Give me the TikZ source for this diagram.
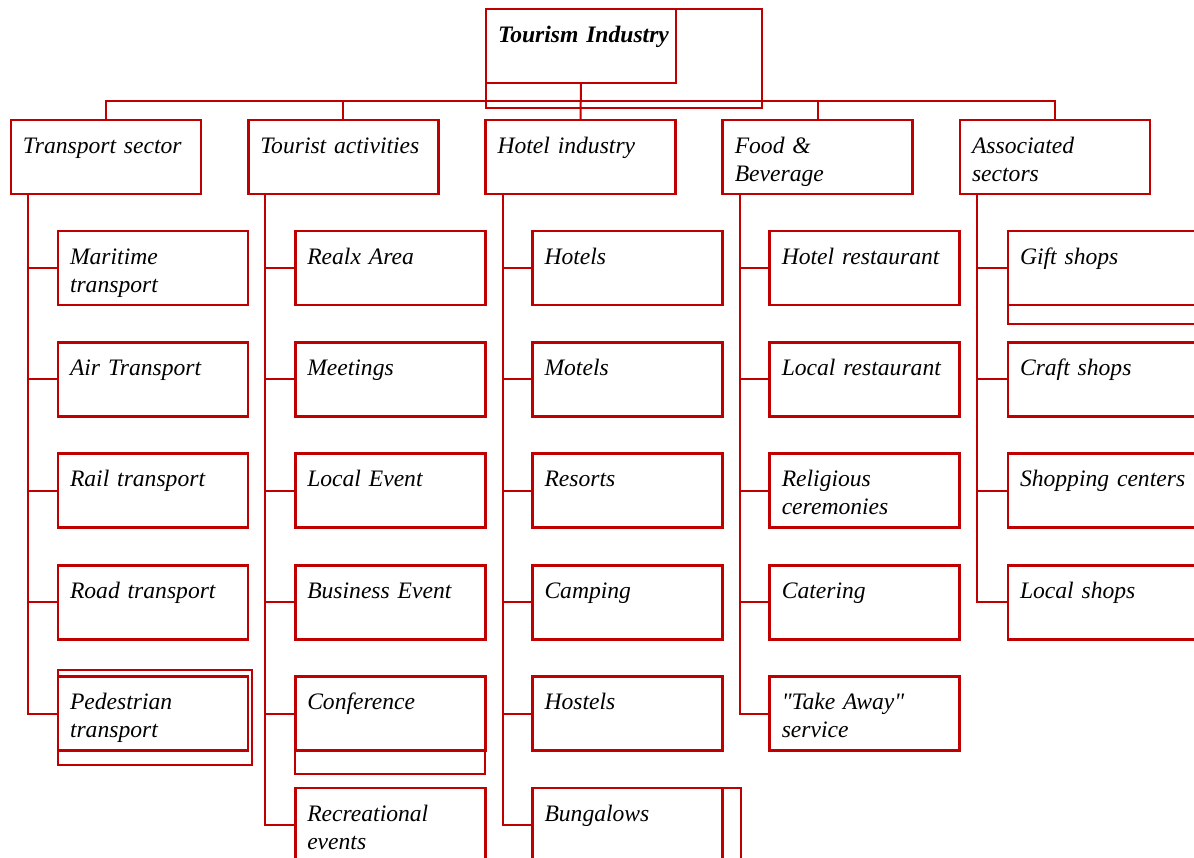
\documentclass[tikz,border=0pt]{standalone}
\usepackage{fontspec}
\setmainfont{Liberation Serif}
\usetikzlibrary{positioning}
\definecolor{boxred}{RGB}{192,0,0}

\begin{document}
\begin{tikzpicture}[x=1pt,y=-1pt,node distance=47.25pt,
    box/.style={draw=boxred, line width=2.8pt, rectangle, outer sep=0pt,
        minimum width=190pt, minimum height=74pt, inner sep=12pt,
        text width=166pt, align=left, text height=21pt, text depth=29pt,
        font=\fontsize{23.6}{28}\selectfont\itshape},
    link/.style={draw=boxred, line width=2pt},
    extra/.style={draw=boxred, line width=2pt}]

    \useasboundingbox (0,0) rectangle (1194,857);
    \clip (0,0) rectangle (1194,857);

    % top of the tree
    \node[box, anchor=north west, font=\fontsize{23.6}{28}\selectfont\bfseries\itshape] (tourism) at (486,9) {\mbox{Tourism Industry}};

    % the five sectors
    \node[box, anchor=north west] (trans) at (11,120) {\mbox{Transport sector}};
    \node[box, right=of trans]  (tour)   {\mbox{Tourist activities}};
    \node[box, right=of tour]   (hotel)  {Hotel industry};
    \node[box, right=of hotel]  (food)   {Food \&\\Beverage};
    \node[box, right=of food]   (assoc)  {Associated\\sectors};

    % bus line under the top box
    \coordinate (bus) at ([yshift=19pt]hotel.north);
    \draw[link] (tourism.south) -- (hotel.north);
    \foreach \s in {trans,tour,food,assoc}
        \draw[link] (\s.north) |- (bus);

    % transport sector
    \node[box, anchor=north west] (maritime) at ([xshift=47pt,yshift=-37pt]trans.south west) {Maritime\\transport};
    \node[box, below=37.4pt of maritime] (air)        {Air Transport};
    \node[box, below=37.4pt of air]      (rail)       {Rail transport};
    \node[box, below=37.4pt of rail]     (road)       {Road transport};
    \node[box, below=37.4pt of road]     (pedestrian) {Pedestrian\\transport};
    \foreach \c in {maritime,air,rail,road,pedestrian}
        \draw[link] ([xshift=17pt]trans.south west) |- (\c.west);

    % tourist activities
    \node[box, anchor=north west] (relax) at ([xshift=47pt,yshift=-37pt]tour.south west) {Realx Area};
    \node[box, below=37.4pt of relax]      (meetings)     {Meetings};
    \node[box, below=37.4pt of meetings]   (localevent)   {Local Event};
    \node[box, below=37.4pt of localevent] (business)     {\mbox{Business Event}};
    \node[box, below=37.4pt of business]   (conference)   {Conference};
    \node[box, below=37.4pt of conference] (recreational) {Recreational\\events};
    \foreach \c in {relax,meetings,localevent,business,conference,recreational}
        \draw[link] ([xshift=17pt]tour.south west) |- (\c.west);

    % hotel industry
    \node[box, anchor=north west] (hotels) at ([xshift=47pt,yshift=-37pt]hotel.south west) {Hotels};
    \node[box, below=37.4pt of hotels]  (motels)    {Motels};
    \node[box, below=37.4pt of motels]  (resorts)   {Resorts};
    \node[box, below=37.4pt of resorts] (camping)   {Camping};
    \node[box, below=37.4pt of camping] (hostels)   {Hostels};
    \node[box, below=37.4pt of hostels] (bungalows) {Bungalows};
    \foreach \c in {hotels,motels,resorts,camping,hostels,bungalows}
        \draw[link] ([xshift=17pt]hotel.south west) |- (\c.west);

    % food & beverage
    \node[box, anchor=north west] (hotelrest) at ([xshift=47pt,yshift=-37pt]food.south west) {\mbox{Hotel restaurant}};
    \node[box, below=37.4pt of hotelrest] (localrest) {\mbox{Local restaurant}};
    \node[box, below=37.4pt of localrest] (religious) {Religious\\ceremonies};
    \node[box, below=37.4pt of religious] (catering)  {Catering};
    \node[box, below=37.4pt of catering]  (takeaway)  {\textquotedbl Take Away\textquotedbl\\service};
    \foreach \c in {hotelrest,localrest,religious,catering,takeaway}
        \draw[link] ([xshift=17pt]food.south west) |- (\c.west);

    % associated sectors
    \node[box, anchor=north west] (gift) at ([xshift=48pt,yshift=-37pt]assoc.south west) {Gift shops};
    \node[box, below=37.4pt of gift]     (craft)      {Craft shops};
    \node[box, below=37.4pt of craft]    (shopping)   {\mbox{Shopping centers}};
    \node[box, below=37.4pt of shopping] (localshops) {Local shops};
    \foreach \c in {gift,craft,shopping,localshops}
        \draw[link] ([xshift=17pt]assoc.south west) |- (\c.west);

    % extra outlines around some boxes
    \draw[extra] (tourism.north west) rectangle ++(276,99);
    \draw[extra] ([yshift=7pt]pedestrian.north west) rectangle ([xshift=4pt,yshift=-14pt]pedestrian.south east);
    \draw[extra] (conference.north west) rectangle ([yshift=-23pt]conference.south east);
    \draw[extra] (gift.north west) rectangle ([yshift=-19pt]gift.south east);
    \draw[extra] (bungalows.north west) rectangle ([xshift=18pt,yshift=-30pt]bungalows.south east);

\end{tikzpicture}
\end{document}
